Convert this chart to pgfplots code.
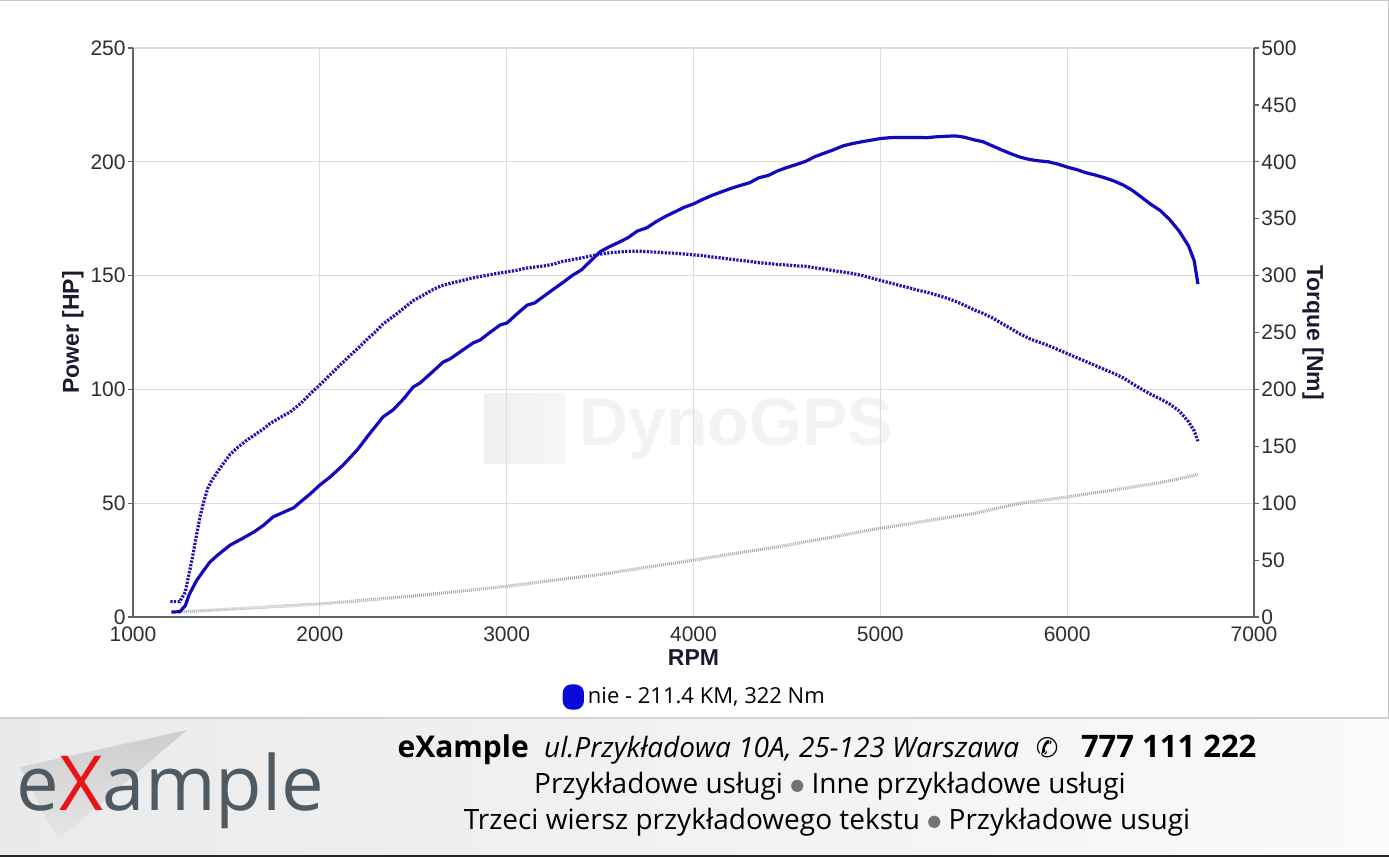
\documentclass[border=0pt]{standalone}
\usepackage{pgfplots}
\pgfplotsset{compat=1.18}
\usepackage{fontspec}
\setmainfont{Liberation Sans}
\newfontfamily\seg{Open Sans}
\newfontfamily\sym{DejaVu Sans}
\definecolor{pblue}{RGB}{20,8,190}
\definecolor{tblue}{RGB}{32,20,170}
\definecolor{legblue}{RGB}{12,10,215}
\definecolor{lgrid}{RGB}{218,220,224}
\definecolor{axisc}{RGB}{95,100,110}
\definecolor{labc}{RGB}{26,26,46}
\definecolor{tickc}{RGB}{45,45,50}
\definecolor{logogray}{RGB}{80,90,98}
\definecolor{logored}{RGB}{232,20,25}
\definecolor{dotgray}{RGB}{115,115,115}
\definecolor{lossgray}{RGB}{165,165,165}
\definecolor{wm}{RGB}{243,243,243}

\pgfplotstableread{
rpm hp
1205 2.2
1250 2.3
1280 5
1300 9.7
1340 16
1370 19.5
1410 24
1450 27
1520 31.6
1590 34.7
1650 37.5
1700 40.4
1750 44
1800 45.8
1860 48
1900 50.8
1950 54.2
2000 58
2055 61.5
2125 66.8
2200 73.4
2269 80.8
2338 87.9
2392 91
2450 96
2499 101
2536 102.8
2600 107.5
2660 112
2697 113.4
2760 117
2820 120.4
2858 121.7
2910 125
2965 128.3
3002 129.2
3050 132.8
3109 137
3150 138
3200 141
3250 144
3300 146.9
3350 150
3400 152.5
3450 156.5
3500 160.5
3550 162.7
3600 164.6
3650 166.7
3700 169.6
3750 171
3800 173.7
3850 176
3900 178
3950 180
4000 181.5
4050 183.5
4100 185.3
4150 186.8
4200 188.3
4250 189.6
4300 190.8
4350 193
4400 194
4450 196
4500 197.5
4550 198.8
4600 200.2
4650 202.3
4700 203.8
4750 205.3
4800 207
4850 208
4900 208.8
4950 209.5
5000 210.2
5050 210.6
5100 210.7
5200 210.7
5250 210.6
5300 211
5350 211.2
5400 211.4
5450 210.8
5500 209.7
5550 208.8
5600 207
5650 205.2
5700 203.5
5750 202
5800 201
5850 200.4
5900 200
5950 199
6000 197.7
6050 196.6
6100 195.2
6150 194.2
6200 193
6250 191.6
6300 189.8
6350 187.4
6400 184.3
6450 181.2
6500 178.5
6550 174.5
6600 169.5
6650 163
6680 156.5
6700 146.3
}\powertable

\pgfplotstableread{
rpm nm
1200 13.5
1250 13.5
1280 22
1300 38
1320 54
1340 72
1360 89
1380 102
1400 113
1425 121
1450 127
1480 134
1520 143
1560 149
1610 155.5
1660 161
1700 165.5
1733 170
1790 175.5
1840 180
1900 188
1948 196
2000 204
2050 212
2100 220
2150 228
2200 235.5
2250 243.5
2300 251
2338 257.5
2400 265
2450 271.5
2500 278
2550 282.5
2600 287.3
2650 291
2700 293.3
2750 295.2
2800 297.3
2850 299
2900 300.5
2950 302
3000 303.2
3050 304.5
3100 306.5
3150 307.5
3200 308.5
3250 310
3300 312.5
3350 314
3400 315.5
3450 317.3
3500 318.8
3550 320
3600 320.8
3650 321.3
3700 321.5
3750 321.1
3800 320.6
3850 320
3900 319.7
3950 319
4000 318.2
4050 317.5
4100 316.4
4150 315.5
4200 314.4
4250 313.4
4300 312.5
4350 311.3
4400 310.7
4450 309.8
4500 309.3
4550 308.6
4600 308.2
4650 306.8
4700 305.7
4750 304.3
4800 303.2
4850 301.9
4900 300.2
4950 298
5000 295.8
5050 293.7
5100 291.4
5150 289.5
5200 287.2
5250 285.4
5300 283
5350 280.5
5400 277.6
5450 274
5500 270
5550 266.8
5600 262.8
5650 258
5700 253.3
5750 248.5
5800 244.5
5850 241.5
5900 238.5
5950 235
6000 231.5
6050 228
6100 224.5
6150 221
6200 217.5
6250 214
6300 210.2
6350 205
6400 200
6450 195.5
6500 191.5
6550 187
6600 181
6650 171.5
6680 163.5
6700 154.5
}\torquetable

\pgfplotstableread{
rpm hp
1250 2.2
1500 3.4
2000 5.7
2500 9.2
3000 13.5
3500 18.7
4000 25
4500 31.5
5000 39
5500 45.5
5750 50
6000 52.7
6500 59
6700 62.6
}\losstable

\begin{document}
\begin{tikzpicture}
\path[use as bounding box] (0,0) rectangle (694.5pt,-428.5pt);
\begin{scope}[x=0.5pt,y=-0.5pt]
  % page frame
  \draw[gray!45, line width=0.6pt] (0,0.5) -- (1388.5,0.5) -- (1388.5,718);
  % footer
  \shade[left color={rgb,255:red,234;green,234;blue,234}, right color={rgb,255:red,250;green,250;blue,250}] (0,718) rectangle (1389,855);
  \draw[gray!35, line width=0.7pt] (0,718) -- (1389,718);
  \fill[black!85] (0,855) rectangle (1389,857);
  % logo triangle
  \shade[top color={rgb,255:red,205;green,205;blue,205}, bottom color={rgb,255:red,230;green,230;blue,230}] (20,767) -- (187,730) -- (58,840) -- cycle;
  \node[anchor=base west, inner sep=0pt, text=logogray, font=\seg\fontsize{38}{40}\selectfont] at (16,810) {e\textcolor{logored}{X}ample};
  % footer text
  \node[anchor=base, inner sep=0pt, font=\seg\fontsize{14}{16}\selectfont] at (827,757)
    {{\bfseries\fontsize{15}{16}\selectfont eXample}\hspace{0.55em}\textit{ul.Przykładowa 10A, 25-123 Warszawa}\hspace{0.6em}{\sym\bfseries\fontsize{13.5}{15}\selectfont ✆}\hspace{0.8em}{\bfseries\fontsize{15.5}{16}\selectfont 777 111 222}};
  \node[anchor=base, inner sep=0pt, font=\seg\fontsize{14}{16}\selectfont] at (830,793)
    {Przykładowe usługi {\color{dotgray}\sym\fontsize{8}{10}\selectfont\raisebox{0.15em}{●}} Inne przykładowe usługi};
  \node[anchor=base, inner sep=0pt, font=\seg\fontsize{14}{16}\selectfont] at (827,829)
    {Trzeci wiersz przykładowego tekstu {\color{dotgray}\sym\fontsize{8}{10}\selectfont\raisebox{0.15em}{●}} Przykładowe usugi};
  % watermark
  \shade[left color={rgb,255:red,240;green,240;blue,240}, right color={rgb,255:red,246;green,246;blue,246}] (484,393) rectangle (565,463);
  \node[anchor=base west, inner sep=0pt, text=wm, font=\bfseries\fontsize{34}{36}\selectfont] at (579,445) {DynoGPS};
\end{scope}

\begin{axis}[
  at={(66.5pt,-308.5pt)}, anchor=south west,
  width=560.5pt, height=284.5pt, scale only axis,
  xmin=1000, xmax=7000, ymin=0, ymax=250,
  axis x line*=bottom, axis y line*=left,
  axis line style={-, axisc, line width=0.8pt},
  xtick={1000,2000,...,7000}, ytick={0,50,...,250},
  grid=major, major grid style={lgrid, line width=0.6pt},
  tick align=outside, major tick length=2.5pt,
  tick style={axisc, line width=0.6pt},
  xtick style={draw=none},
  /pgf/number format/assume math mode=true,
  /pgf/number format/set thousands separator={},
  ticklabel style={font=\fontsize{10.5}{12}\selectfont, text=tickc},
  yticklabel style={inner sep=1pt},
  xticklabel style={yshift=1pt},
  xlabel={RPM},
  xlabel style={font=\bfseries\fontsize{11.5}{13}\selectfont, text=labc, at={(axis description cs:0.5,-0.072)}, anchor=center},
  ylabel={Power [HP]},
  ylabel style={font=\bfseries\fontsize{11.5}{13}\selectfont, text=labc, at={(axis description cs:-0.0535,0.5)}, anchor=center},
  legend style={at={(axis description cs:0.502,-0.1406)}, anchor=center, draw=none, fill=none,
    font=\seg\fontsize{11}{13}\selectfont, legend cell align=left},
  legend image code/.code={\fill[legblue, rounded corners=3.5pt] (0pt,-5.5pt) rectangle (9pt,5.5pt);},
]
\addplot[lossgray, line width=1.6pt, dash pattern=on 0.45pt off 0.55pt, forget plot] table[x=rpm,y=hp] {\losstable};
\addplot[pblue, line width=1.6pt, line join=round] table[x=rpm,y=hp] {\powertable};
\addlegendentry{nie - 211.4 KM, 322 Nm}
\end{axis}

\begin{axis}[
  at={(66.5pt,-308.5pt)}, anchor=south west,
  width=560.5pt, height=284.5pt, scale only axis,
  xmin=1000, xmax=7000, ymin=0, ymax=500,
  axis x line=none, axis y line*=right,
  axis line style={-, axisc, line width=0.8pt},
  ytick={0,50,...,500},
  tick align=outside, major tick length=2.5pt,
  tick style={axisc, line width=0.6pt},
  /pgf/number format/assume math mode=true,
  ticklabel style={font=\fontsize{10.5}{12}\selectfont, text=tickc},
  yticklabel style={inner sep=1pt},
  ylabel={Torque [Nm]},
  every axis y label/.style={font=\bfseries\fontsize{11.5}{13}\selectfont, text=labc, at={(axis description cs:1.0526,0.5)}, anchor=center, rotate=-90},
]
\addplot[tblue, line width=1.6pt, dash pattern=on 1.1pt off 0.7pt] table[x=rpm,y=nm] {\torquetable};
\end{axis}
\end{tikzpicture}
\end{document}
